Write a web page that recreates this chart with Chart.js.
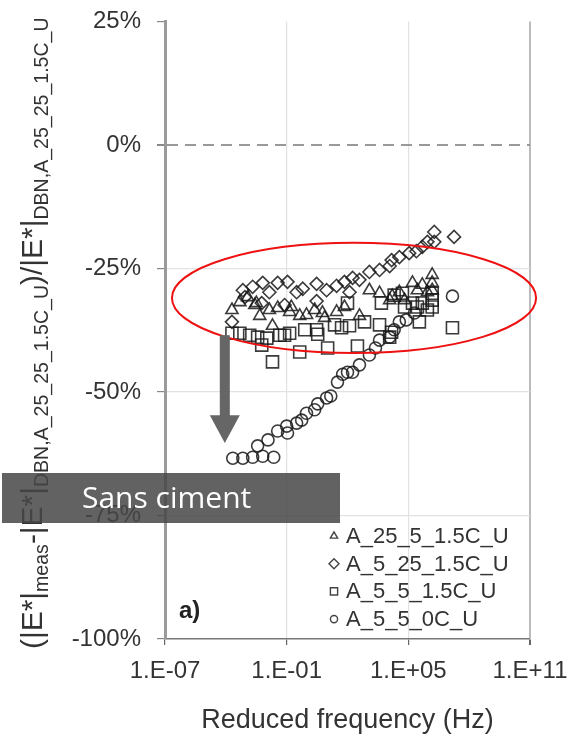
<!DOCTYPE html>
<html>
<head>
<meta charset="utf-8">
<script src="https://cdn.jsdelivr.net/npm/chart.js@4.4.1/dist/chart.umd.min.js"></script>
<style>
  html, body { margin: 0; padding: 0; background: #fff; }
</style>
</head>
<body>
<canvas id="chart" width="575" height="739"></canvas>
<script>
// series labels
var seriesLabels = ['A_25_5_1.5C_U', 'A_5_25_1.5C_U', 'A_5_5_1.5C_U', 'A_5_5_0C_U'];

// A_25_5_1.5C_U (triangles)
var triFreq = [2.0e-4, 4.9e-4, 1.2e-3, 2.7e-3, 3.2e-3, 4.7e-3, 1.4e-2, 3.6e-2, 2.0e-2, 0.14, 0.17, 0.44, 0.95, 2.4, 5.8, 7.4, 29, 71, 389, 1200, 3800, 1.2e4, 1.6e4, 3.6e4, 6.5e4, 1.6e5, 2.8e5, 4.9e5, 8.7e5, 1.5e6, 1.5e6, 1.5e6];
var triVal  = [-33.4, -31.8, -30.8, -32.4, -32.0, -34.6, -33.4, -33.0, -36.6, -33.8, -32.8, -34.6, -34.4, -33.4, -34.0, -35.0, -33.8, -32.8, -34.6, -29.4, -30.0, -31.4, -30.6, -29.8, -31.4, -27.9, -29.4, -28.3, -29.8, -26.3, -27.9, -29.4];

// A_5_25_1.5C_U (diamonds)
var diaFreq = [2.0e-4, 6.9e-4, 8.7e-4, 2.1e-3, 5.9e-3, 6.6e-3, 1.4e-2, 3.6e-2, 7.9e-2, 0.11, 0.31, 0.62, 3.0, 3.0, 9.3, 29, 71, 126, 178, 389, 1200, 3800, 1.2e4, 1.5e4, 3.6e4, 1.1e5, 2.5e5, 4.9e5, 8.7e5, 1.9e6, 1.9e6, 1.8e7];
var diaVal  = [-35.8, -29.4, -30.8, -28.7, -32.0, -27.9, -29.8, -27.9, -32.4, -27.7, -29.8, -29.1, -28.1, -31.6, -29.4, -28.5, -27.7, -29.8, -26.9, -27.3, -25.7, -25.3, -24.5, -23.3, -22.7, -21.9, -21.5, -20.6, -19.6, -19.6, -17.6, -18.6];

// A_5_5_1.5C_U (squares)
var sqFreq = [2.0e-4, 4.9e-4, 1.5e-3, 3.7e-3, 5.9e-3, 1.05e-2, 2.0e-2, 4.6e-2, 7.9e-2, 0.14, 0.44, 0.78, 3.0, 3.4, 10.5, 23, 51, 100, 126, 309, 692, 3800, 4700, 1.2e4, 1.5e4, 2.0e4, 5.1e4, 6.5e4, 1.6e5, 2.8e5, 3.5e5, 4.9e5, 8.7e5, 1.5e6, 1.5e6, 1.5e6, 1.5e7];
var sqVal  = [-38.1, -38.1, -38.5, -38.9, -40.5, -39.1, -43.9, -38.5, -38.5, -38.1, -41.9, -37.4, -37.4, -38.3, -41.1, -36.4, -37.0, -32.0, -36.6, -40.7, -35.8, -36.4, -32.0, -38.9, -37.9, -30.4, -30.0, -32.8, -32.0, -32.8, -35.8, -32.0, -33.4, -30.0, -31.4, -32.8, -37.0];

// A_5_5_0C_U (circles)
var cirFreq = [2.2e-4, 6.9e-4, 2.1e-3, 6.6e-3, 2.3e-2, 3.7e-3, 1.2e-2, 3.6e-2, 0.11, 0.10, 0.31, 0.55, 0.95, 2.4, 3.4, 9.3, 15, 32, 58, 100, 178, 389, 1200, 2400, 3800, 1.2e4, 2.0e4, 3.6e4, 7.9e4, 2.0e5, 1.5e7];
var cirVal  = [-63.4, -63.4, -63.2, -63.0, -63.2, -60.9, -59.7, -57.9, -58.3, -56.9, -56.3, -55.7, -54.3, -53.6, -52.4, -51.2, -50.8, -48.0, -46.4, -46.0, -46.0, -44.5, -42.5, -41.1, -39.5, -38.9, -37.4, -35.8, -35.4, -34.0, -30.6];

// axes
var xTickValues = [1e-7, 1e-1, 1e5, 1e11];
var xTickLabels = ['1.E-07', '1.E-01', '1.E+05', '1.E+11'];
var yTickValues = [25, 0, -25, -50, -75, -100];

// annotations (data units)
var ellipseFreq = [2.2e-7, 2.0e11];
var ellipseVal = [-19.8, -42.1];
var arrowFreq = 8.9e-5;
var arrowVal = [-38.5, -54.7, -60.3];

var FONT = "'Liberation Sans', Arial, sans-serif";
var MARK = 'rgba(25,25,25,0.85)';

function pairs(xs, ys) {
  return xs.map(function(x, i) { return { x: x, y: ys[i] }; });
}

var styles = ['triangle', 'rectRot', 'rect', 'circle'];
var radii = [7, 6.5, 8.5, 6];
var series = [pairs(triFreq, triVal), pairs(diaFreq, diaVal), pairs(sqFreq, sqVal), pairs(cirFreq, cirVal)];

var datasets = series.map(function(d, i) {
  return {
    label: seriesLabels[i],
    data: d,
    pointStyle: styles[i],
    pointRadius: radii[i],
    pointBorderWidth: 1.6,
    pointBorderColor: MARK,
    pointBackgroundColor: 'rgba(0,0,0,0)',
    showLine: false
  };
});

function drawYTitle(ctx) {
  var parts = [['(|E*|', 0], ['meas', 1], ['-|E*|', 0], ['DBN,A_25_25_1.5C_U', 1], [')/|E*|', 0], ['DBN,A_25_25_1.5C_U', 1]];
  var big = 26, small = 17, total = 0;
  parts.forEach(function(p) {
    ctx.font = (p[1] ? small : big) + 'px ' + FONT;
    total += ctx.measureText(p[0]).width;
  });
  var k = 632 / total;
  big *= k; small *= k;
  ctx.save();
  ctx.translate(42, 333 + 316);
  ctx.rotate(-Math.PI / 2);
  ctx.fillStyle = '#333';
  ctx.textBaseline = 'alphabetic';
  var x = 0;
  parts.forEach(function(p) {
    ctx.font = (p[1] ? small : big) + 'px ' + FONT;
    ctx.fillText(p[0], x, p[1] ? small * 0.3 : 0);
    x += ctx.measureText(p[0]).width;
  });
  ctx.restore();
}

var overlay = {
  id: 'overlay',
  afterDraw: function(chart) {
    var ctx = chart.ctx, xs = chart.scales.x, ys = chart.scales.y;
    ctx.save();

    // ellipse
    var x0 = xs.getPixelForValue(ellipseFreq[0]), x1 = xs.getPixelForValue(ellipseFreq[1]);
    var y0 = ys.getPixelForValue(ellipseVal[0]), y1 = ys.getPixelForValue(ellipseVal[1]);
    ctx.beginPath();
    ctx.ellipse((x0 + x1) / 2, (y0 + y1) / 2, (x1 - x0) / 2, (y1 - y0) / 2, 0, 0, Math.PI * 2);
    ctx.strokeStyle = '#ee1111';
    ctx.lineWidth = 2;
    ctx.stroke();

    // arrow
    var ax = xs.getPixelForValue(arrowFreq);
    var ya = ys.getPixelForValue(arrowVal[0]), yb = ys.getPixelForValue(arrowVal[1]), yc = ys.getPixelForValue(arrowVal[2]);
    ctx.fillStyle = '#666';
    ctx.fillRect(ax - 5, ya, 10, yb - ya + 1);
    ctx.beginPath();
    ctx.moveTo(ax - 15, yb);
    ctx.lineTo(ax + 15, yb);
    ctx.lineTo(ax, yc);
    ctx.closePath();
    ctx.fill();

    // legend
    var lx = 334, ly = 536;
    chart.data.datasets.forEach(function(ds, i) {
      var y = ly + i * 27.7;
      ctx.fillStyle = 'rgba(0,0,0,0)';
      ctx.strokeStyle = '#444';
      ctx.lineWidth = 1.4;
      Chart.helpers.drawPoint(ctx, {
        pointStyle: ds.pointStyle, radius: ds.pointStyle === 'rectRot' ? 5 : ds.pointRadius * 0.6, borderWidth: 1.4, rotation: 0
      }, lx, y);
      ctx.fillStyle = '#333';
      ctx.font = '22px ' + FONT;
      ctx.textBaseline = 'middle';
      ctx.textAlign = 'left';
      ctx.fillText(ds.label, lx + 12, y + 1);
    });

    // panel label
    ctx.font = 'bold 24px ' + FONT;
    ctx.fillStyle = '#222';
    ctx.textBaseline = 'middle';
    ctx.fillText('a)', 179, 611);

    // y title
    drawYTitle(ctx);

    // grey label box
    ctx.fillStyle = 'rgba(70,70,70,0.85)';
    ctx.fillRect(2, 473, 338, 50);
    ctx.fillStyle = '#fff';
    ctx.font = "30px 'Open Sans', sans-serif";
    ctx.textBaseline = 'middle';
    ctx.fillText('Sans ciment', 82, 499);

    ctx.restore();
  }
};

var ctx = document.getElementById('chart').getContext('2d');
var chart = new Chart(ctx, {
  type: 'scatter',
  data: { datasets: datasets },
  options: {
    responsive: false,
    animation: false,
    layout: { padding: { left: 0, right: 45, top: 21.5, bottom: 0 } },
    plugins: { legend: { display: false }, tooltip: { enabled: false } },
    scales: {
      x: {
        type: 'logarithmic',
        min: 1e-7,
        max: 1e11,
        afterBuildTicks: function(s) {
          s.ticks = xTickValues.map(function(v) { return { value: v }; });
        },
        afterFit: function(s) {
          s.height = 100;
          s.paddingLeft = 0;
          s.paddingRight = 0;
        },
        ticks: {
          autoSkip: false,
          maxRotation: 0,
          padding: 12,
          color: '#333',
          font: { family: FONT, size: 24 },
          callback: function(v, i) { return xTickLabels[i]; }
        },
        grid: {
          color: function(c) {
            if (!c.tick) return 'rgba(0,0,0,0)';
            if (c.tick.value === 1e11) return '#bbb';
            if (c.tick.value === 1e-7) return 'rgba(0,0,0,0)';
            return '#e2e2e2';
          },
          lineWidth: function(c) { return c.tick && c.tick.value === 1e11 ? 2 : 1.2; },
          tickLength: 6,
          tickColor: '#666'
        },
        border: { color: '#777', width: 1.5 },
        title: {
          display: true,
          text: 'Reduced frequency (Hz)',
          color: '#333',
          font: { family: FONT, size: 27 },
          padding: { top: 0, bottom: 2 }
        }
      },
      y: {
        min: -100,
        max: 25,
        afterBuildTicks: function(s) {
          s.ticks = yTickValues.map(function(v) { return { value: v }; });
        },
        afterFit: function(s) {
          s.width = 165;
          s.paddingTop = 0;
          s.paddingBottom = 0;
        },
        ticks: {
          padding: 16,
          color: '#333',
          font: { family: FONT, size: 24 },
          callback: function(v) { return v + '%'; }
        },
        grid: {
          color: function(c) {
            if (!c.tick) return 'rgba(0,0,0,0)';
            if (c.tick.value === 25 || c.tick.value === -100) return 'rgba(0,0,0,0)';
            if (c.tick.value === 0) return '#999';
            return '#e2e2e2';
          },
          lineWidth: function(c) { return c.tick && c.tick.value === 0 ? 2 : 1.2; },
          tickLength: 8,
          tickColor: '#888'
        },
        border: {
          color: '#9a9a9a',
          width: 3,
          dash: function(c) { return c.tick && c.tick.value === 0 ? [11, 7] : []; }
        }
      }
    }
  },
  plugins: [overlay]
});
</script>
</body>
</html>
